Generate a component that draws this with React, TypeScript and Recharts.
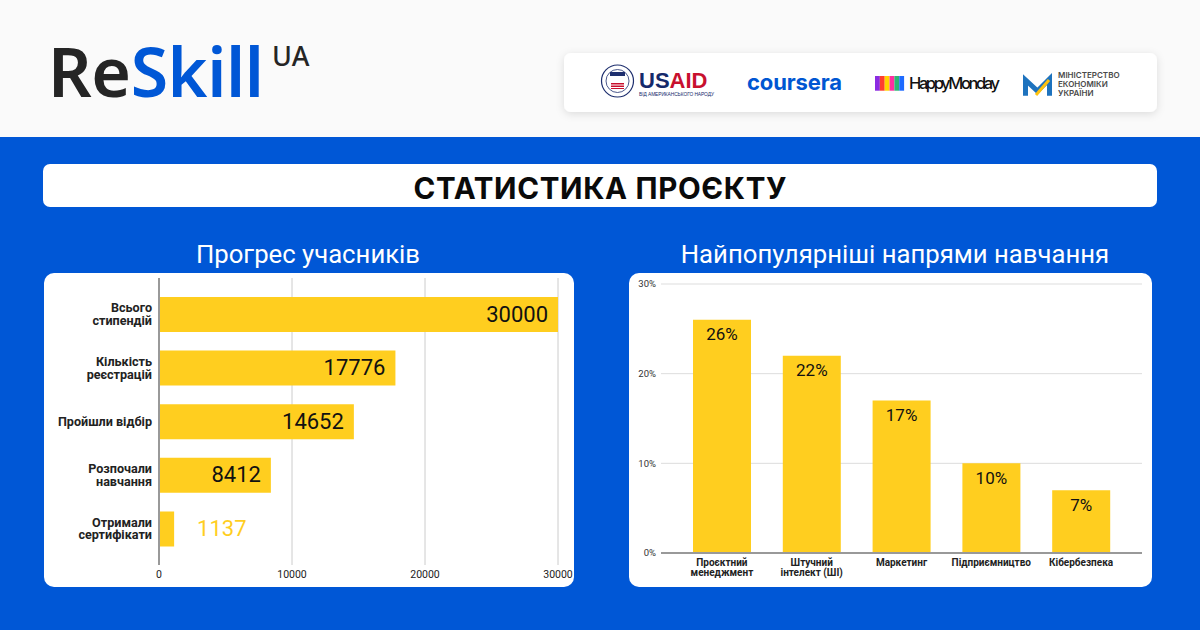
import React from "react";
import { BarChart, Bar, XAxis, YAxis, CartesianGrid, LabelList } from "recharts";

const progressCategories = [
  "Всього\nстипендій",
  "Кількість\nреєстрацій",
  "Пройшли відбір",
  "Розпочали\nнавчання",
  "Отримали\nсертифікати",
];
const progressValues = [30000, 17776, 14652, 8412, 1137];
const progressTicks = [0, 10000, 20000, 30000];

const topicCategories = [
  "Проєктний\nменеджмент",
  "Штучний\nінтелект (ШІ)",
  "Маркетинг",
  "Підприємництво",
  "Кібербезпека",
];
const topicShares = [26, 22, 17, 10, 7];
const topicTicks = [0, 10, 20, 30];

const BLUE = "#0057D6";
const YELLOW = "#FFCE1F";

const progressData = progressCategories.map((name, i) => ({ name, value: progressValues[i] }));
const topicData = topicCategories.map((name, i) => ({ name, value: topicShares[i] }));

// two-line category labels on the left axis
const ProgressTick = (props: any) => {
  const { x, y, payload } = props;
  const lines = String(payload.value).split("\n");
  const first = 3.7 - (lines.length - 1) * 6.4;
  return (
    <text x={x + 1} y={y} textAnchor="end" fontSize={12.6} fontWeight={700} fill="#222">
      {lines.map((l, i) => (
        <tspan key={i} x={x + 1} dy={i === 0 ? first : 12.8}>
          {l}
        </tspan>
      ))}
    </text>
  );
};

const TopicTick = (props: any) => {
  const { x, y, payload } = props;
  const lines = String(payload.value).split("\n");
  return (
    <text x={x} y={y} textAnchor="middle" fontSize={10} fontWeight={700} fill="#222">
      {lines.map((l, i) => (
        <tspan key={i} x={x} dy={i === 0 ? 5 : 10}>
          {l}
        </tspan>
      ))}
    </text>
  );
};

const ProgressLabel = (props: any) => {
  const { x, y, width, height, value } = props;
  const inside = width > 60;
  return (
    <text
      x={inside ? x + width - 10 : x + width + 23}
      y={y + height / 2 + 7}
      textAnchor={inside ? "end" : "start"}
      fontSize={22}
      fill={inside ? "#111" : YELLOW}
    >
      {value}
    </text>
  );
};

const TopicLabel = (props: any) => {
  const { x, y, width, value } = props;
  return (
    <text x={x + width / 2} y={y + 20.5} textAnchor="middle" fontSize={17} fill="#111">
      {value}%
    </text>
  );
};

const card: React.CSSProperties = {
  position: "absolute",
  top: 273,
  height: 314,
  background: "#fff",
  borderRadius: 10,
  overflow: "hidden",
};

export default function App() {
  const stripes = ["#8B2BE2", "#FF3D2E", "#FFD400", "#FF2FA0", "#2BB673", "#1E6BFF"];
  return (
    <div
      style={{
        position: "absolute",
        left: 0,
        top: 0,
        width: 1200,
        height: 630,
        overflow: "hidden",
        background: BLUE,
        fontFamily: "Roboto, sans-serif",
      }}
    >
      <svg width={1200} height={630} style={{ position: "absolute", left: 0, top: 0 }}>
        <defs>
          <filter id="sh" x="-10%" y="-40%" width="120%" height="180%">
            <feDropShadow dx="0" dy="2" stdDeviation="4" floodColor="#000" floodOpacity="0.12" />
          </filter>
        </defs>
        <rect x={0} y={0} width={1200} height={137} fill="#FAFAFA" />

        {/* logo */}
        <text x={48} y={97} fontFamily="Noto Sans" fontWeight={600} fontSize={68} textLength={216}>
          <tspan fill="#252525">Re</tspan>
          <tspan fill={BLUE}>Skill</tspan>
        </text>
        <text x={272} y={66} fontFamily="Noto Sans" fontWeight={500} fontSize={27} fill="#252525">
          UA
        </text>

        {/* partners */}
        <rect x={564} y={53} width={593} height={59} rx={7} fill="#fff" filter="url(#sh)" />
        <circle cx={617.5} cy={81} r={16} fill="#fff" stroke="#1E2F6E" strokeWidth={1.2} />
        <circle cx={617.5} cy={81} r={11.5} fill="#fff" stroke="#1E2F6E" strokeWidth={0.8} />
        <rect x={610} y={72} width={15} height={4} fill="#1E2F6E" />
        <rect x={611} y={83} width={13} height={6} fill="#C8102E" />
        <rect x={611} y={84.5} width={13} height={1} fill="#fff" />
        <rect x={611} y={87} width={13} height={1} fill="#fff" />
        <text x={639} y={88.3} fontFamily="Liberation Sans" fontWeight={700} fontSize={22}>
          <tspan fill="#14296B">US</tspan>
          <tspan fill="#C8102E">AID</tspan>
        </text>
        <text x={639} y={96} fontFamily="Liberation Sans" fontSize={4.8} fill="#14296B" textLength={75}>
          ВІД АМЕРИКАНСЬКОГО НАРОДУ
        </text>
        <text x={747} y={90} fontFamily="Inter" fontWeight={700} fontSize={22} fill="#0056D2" textLength={95}>
          coursera
        </text>
        {stripes.map((c, i) => (
          <rect key={c} x={875 + i * 4.85} y={76} width={4.85} height={14.7} fill={c} />
        ))}
        <text x={909} y={88.5} fontFamily="Inter" fontWeight={500} fontSize={16.5} fill="#111" textLength={91}>
          HappyMonday
        </text>
        <polyline
          points="1025.5,95.7 1025.5,80 1037.5,91 1049.5,79 1049.5,95.7"
          fill="none"
          stroke="#1E73BE"
          strokeWidth={5}
        />
        <line x1={1036} y1={95} x2={1049} y2={80} stroke="#FFC20E" strokeWidth={3} />
        <text fontFamily="Inter" fontWeight={600} fontSize={8} fill="#4A4A4A">
          <tspan x={1058} y={78}>МІНІСТЕРСТВО</tspan>
          <tspan x={1058} y={87.3}>ЕКОНОМІКИ</tspan>
          <tspan x={1058} y={96.3}>УКРАЇНИ</tspan>
        </text>

        {/* title bar */}
        <rect x={43} y={164} width={1114} height={43} rx={7} fill="#fff" />
        <text
          x={600}
          y={198.5}
          textAnchor="middle"
          fontFamily="Inter"
          fontWeight={700}
          fontSize={29.5}
          fill="#0A0A0A"
          textLength={373}
        >
          СТАТИСТИКА ПРОЄКТУ
        </text>

        <text x={308} y={262.5} textAnchor="middle" fontFamily="Roboto" fontSize={25.7} fill="#fff">
          Прогрес учасників
        </text>
        <text x={895} y={262.5} textAnchor="middle" fontFamily="Roboto" fontSize={25.7} fill="#fff">
          Найпопулярніші напрями навчання
        </text>
      </svg>

      <div style={{ ...card, left: 44, width: 530 }}>
        <BarChart
          layout="vertical"
          width={530}
          height={314}
          data={progressData}
          margin={{ top: 5, right: 16, bottom: 0, left: 0 }}
          barSize={35}
        >
          <CartesianGrid horizontal={false} stroke="#cccccc" />
          <XAxis
            type="number"
            domain={[0, 30000]}
            ticks={progressTicks}
            interval={0}
            axisLine={false}
            tickLine={false}
            tickSize={4}
            height={22}
            tick={{ fontSize: 10.5, fill: "#222" }}
          />
          <YAxis
            type="category"
            dataKey="name"
            width={115}
            axisLine={{ stroke: "#999", strokeWidth: 2 }}
            tickLine={false}
            tick={<ProgressTick />}
            interval={0}
            padding={{ top: 10, bottom: 9 }}
          />
          <Bar dataKey="value" fill={YELLOW} isAnimationActive={false}>
            <LabelList dataKey="value" content={<ProgressLabel />} />
          </Bar>
        </BarChart>
      </div>

      <div style={{ ...card, left: 629, width: 523 }}>
        <BarChart
          width={523}
          height={314}
          data={topicData}
          margin={{ top: 11, right: 10, bottom: 0, left: 0 }}
          barSize={58}
        >
          <CartesianGrid vertical={false} stroke="#dddddd" />
          <XAxis
            dataKey="name"
            interval={0}
            axisLine={{ stroke: "#999", strokeWidth: 2 }}
            tickLine={false}
            height={34}
            padding={{ left: 16, right: 16 }}
            tick={<TopicTick />}
          />
          <YAxis
            domain={[0, 30]}
            ticks={topicTicks}
            interval={0}
            width={32}
            axisLine={false}
            tickLine={false}
            tickSize={3}
            tickFormatter={(v: number) => `${v}%`}
            tick={{ fontSize: 9.5, fill: "#333" }}
          />
          <Bar dataKey="value" fill={YELLOW} isAnimationActive={false}>
            <LabelList dataKey="value" content={<TopicLabel />} />
          </Bar>
        </BarChart>
      </div>
    </div>
  );
}
